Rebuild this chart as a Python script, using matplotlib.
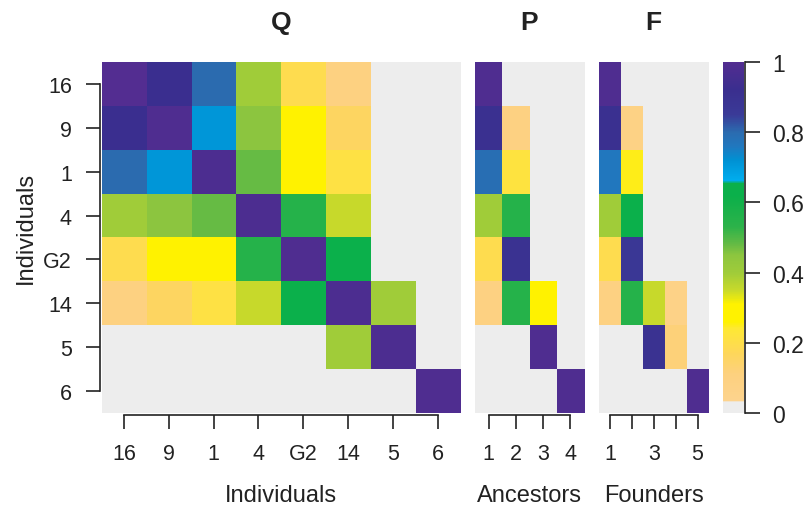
import numpy as np
import matplotlib
matplotlib.use("Agg")
import matplotlib.pyplot as plt
from matplotlib.colors import LinearSegmentedColormap

# labels
individuals = ["16", "9", "1", "4", "G2", "14", "5", "6"]
ancestors = ["1", "2", "3", "4"]
founders = ["1", "", "3", "", "5"]

# kinship between individuals (rows/cols in the order above)
Q = [
    [1.00, 0.92, 0.80, 0.40, 0.19, 0.10, 0.00, 0.00],
    [0.92, 0.99, 0.71, 0.45, 0.27, 0.16, 0.00, 0.00],
    [0.80, 0.71, 0.98, 0.48, 0.28, 0.21, 0.00, 0.00],
    [0.40, 0.45, 0.48, 0.98, 0.55, 0.35, 0.00, 0.00],
    [0.19, 0.27, 0.28, 0.55, 0.99, 0.62, 0.00, 0.00],
    [0.10, 0.16, 0.21, 0.35, 0.62, 0.98, 0.40, 0.00],
    [0.00, 0.00, 0.00, 0.00, 0.00, 0.40, 0.98, 0.00],
    [0.00, 0.00, 0.00, 0.00, 0.00, 0.00, 0.00, 0.99],
]

# ancestry proportions
P = [
    [0.99, 0.00, 0.00, 0.00],
    [0.91, 0.09, 0.00, 0.00],
    [0.79, 0.22, 0.00, 0.00],
    [0.40, 0.55, 0.00, 0.00],
    [0.19, 0.90, 0.00, 0.00],
    [0.09, 0.55, 0.28, 0.00],
    [0.00, 0.00, 0.99, 0.00],
    [0.00, 0.00, 0.00, 0.99],
]

# founder proportions
F = [
    [0.99, 0.00, 0.00, 0.00, 0.00],
    [0.91, 0.08, 0.00, 0.00, 0.00],
    [0.76, 0.25, 0.00, 0.00, 0.00],
    [0.40, 0.62, 0.00, 0.00, 0.00],
    [0.19, 0.87, 0.00, 0.00, 0.00],
    [0.09, 0.55, 0.35, 0.07, 0.00],
    [0.00, 0.00, 0.90, 0.12, 0.00],
    [0.00, 0.00, 0.00, 0.00, 0.99],
]

stops = [
    (0.000, "#ededed"), (0.030, "#ededed"), (0.034, "#fdd48e"),
    (0.110, "#fdd17f"), (0.170, "#fed75a"), (0.240, "#fee934"),
    (0.260, "#fff200"), (0.310, "#fff200"), (0.350, "#c8da2b"),
    (0.400, "#a0cc3a"), (0.450, "#8dc63f"), (0.480, "#66bb45"),
    (0.530, "#2db34a"), (0.620, "#0bb04b"), (0.655, "#0bb04b"),
    (0.662, "#00aeef"), (0.720, "#0092d4"), (0.760, "#2178bf"),
    (0.800, "#2b6cb0"), (0.850, "#3a3b98"), (0.920, "#3a2f8f"),
    (1.000, "#532d91"),
]
cmap = LinearSegmentedColormap.from_list("kin", stops, N=512)

plt.rcParams["font.family"] = ["Liberation Sans", "DejaVu Sans"]
text_col = "#222222"
TICK_FS = 15.5
LAB_FS = 17
W, H = 809, 510
fig = plt.figure(figsize=(W / 100, H / 100), dpi=100)


def add_axes(x0, x1, y0=63, y1=414):
    return fig.add_axes([x0 / W, 1 - y1 / H, (x1 - x0) / W, (y1 - y0) / H])


def r_spine(ax, side, lo, hi, offset=1.5):
    # R base-graphics look: axis line only from first to last tick
    sp = ax.spines[side]
    sp.set_visible(True)
    sp.set_bounds(lo, hi)
    sp.set_position(("outward", offset))
    sp.set_linewidth(1.2)
    sp.set_color(text_col)


def heat(ax, mat, xlabels, title, xlabel):
    mat = np.array(mat)
    ax.imshow(mat, cmap=cmap, vmin=0, vmax=1, aspect="auto",
              interpolation="nearest")
    for s in ax.spines.values():
        s.set_visible(False)
    r_spine(ax, "bottom", 0, mat.shape[1] - 1)
    ax.set_xticks(range(mat.shape[1]))
    ax.set_xticklabels(xlabels)
    ax.tick_params(axis="x", length=10, width=1.2, pad=10,
                   labelsize=TICK_FS, colors=text_col)
    ax.set_yticks([])
    ax.set_title(title, fontweight="bold", fontsize=19, pad=24,
                 color=text_col)
    ax.set_xlabel(xlabel, fontsize=LAB_FS, color=text_col, va="center")
    ax.xaxis.set_label_coords(0.5, -0.234)


ax_q = add_axes(101.7, 460)
heat(ax_q, Q, individuals, "Q", "Individuals")
r_spine(ax_q, "left", 0, len(individuals) - 1)
ax_q.set_yticks(range(len(individuals)))
ax_q.set_yticklabels(individuals)
ax_q.tick_params(axis="y", length=10, width=1.2, pad=10,
                 labelsize=TICK_FS, colors=text_col)
ax_q.set_ylabel("Individuals", fontsize=LAB_FS, color=text_col, va="center")
ax_q.yaxis.set_label_coords(-0.211, 0.53)

ax_p = add_axes(475, 584)
heat(ax_p, P, ancestors, "P", "Ancestors")

ax_f = add_axes(599, 708.5)
heat(ax_f, F, founders, "F", "Founders")

# colour key
ax_cb = add_axes(723, 744)
grad = np.linspace(0, 1, 512).reshape(-1, 1)
ax_cb.imshow(grad, cmap=cmap, vmin=0, vmax=1, aspect="auto", origin="lower",
             extent=[0, 1, 0, 1], interpolation="nearest")
ax_cb.set_xlim(0, 1)
ax_cb.set_ylim(0, 1)
for s in ax_cb.spines.values():
    s.set_visible(False)
r_spine(ax_cb, "right", 0, 1, offset=1)
ax_cb.set_xticks([])
ax_cb.yaxis.tick_right()
cb_ticks = [0, 0.2, 0.4, 0.6, 0.8, 1]
ax_cb.set_yticks(cb_ticks)
ax_cb.set_yticklabels(["0", "0.2", "0.4", "0.6", "0.8", "1"])
ax_cb.tick_params(axis="y", length=11, width=1.2, pad=8,
                  labelsize=16.5, colors=text_col)

fig.savefig("out.png", dpi=100)
